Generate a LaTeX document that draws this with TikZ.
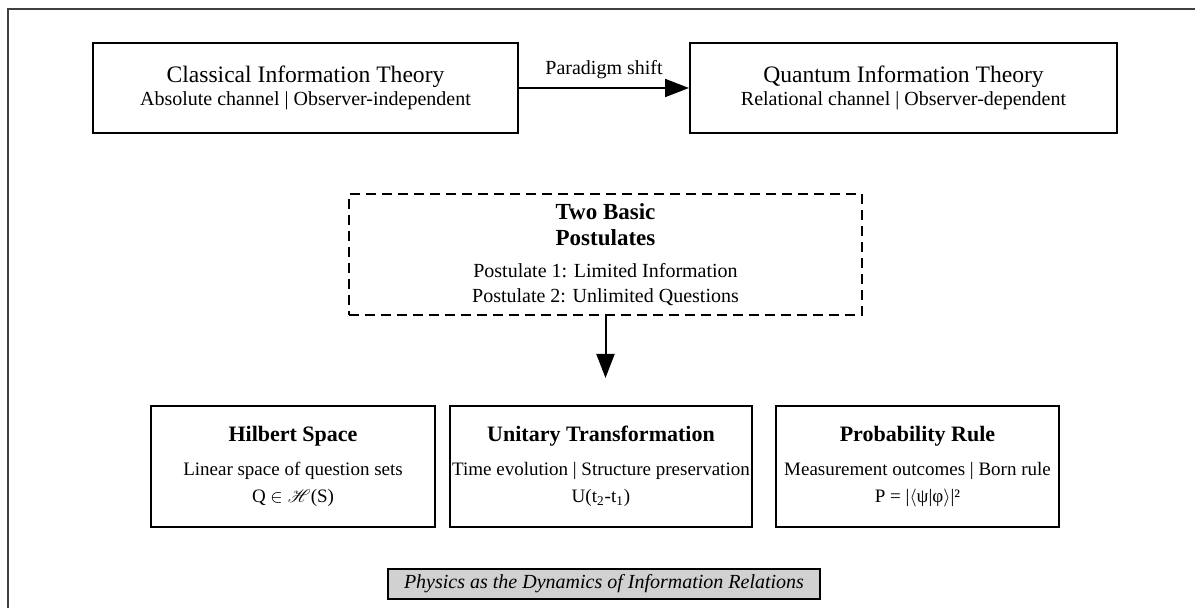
\documentclass[tikz,border=0pt]{standalone}
\usepackage{fontspec}
\setmainfont{Liberation Serif}
\usepackage{mathrsfs}
\usetikzlibrary{arrows.meta}

\begin{document}
\begin{tikzpicture}[x=0.5pt,y=-0.5pt,
	box/.style={draw,line width=1pt,align=center,inner sep=0pt},
	dashbox/.style={box,dash pattern=on 5pt off 3pt},
	link/.style={line width=1pt,-{Triangle[length=12pt,width=9pt]}}]
		\useasboundingbox (0,0) rectangle (1195,608);
		% frame
		\draw[line width=1pt,black!75] (8,608) -- (8,9) -- (1195,9);
		% top row
		\node[box,minimum width=212.5pt,minimum height=45pt,font=\fontsize{10}{11.5}\selectfont] (classical) at (305.5,88)
			{{\fontsize{11.8}{11.5}\selectfont Classical Information Theory}\\Absolute channel | Observer-independent};
		\node[box,minimum width=213.5pt,minimum height=45pt,font=\fontsize{10}{11.5}\selectfont] (quantum) at (903.5,88)
			{{\fontsize{11.8}{11.5}\selectfont Quantum Information Theory}\\Relational channel | Observer-dependent};
		\draw[link] (classical) -- (quantum) node[midway,above=1pt,font=\fontsize{10}{12}\selectfont] {Paradigm shift};
		% postulates
		\node[dashbox,minimum width=256.5pt,minimum height=60.5pt,font=\fontsize{10}{12.5}\selectfont] (postulates) at (605.5,254.5)
			{{\bfseries\fontsize{11.5}{12.5}\selectfont Two Basic}\\[0.5pt]{\bfseries\fontsize{11.5}{12.5}\selectfont Postulates}\\[3.5pt]
			Postulate 1: Limited Information\\Postulate 2: Unlimited Questions};
		\coordinate (split) at (605.5,378);
		\draw[link] (postulates) -- (split);
		% bottom row
		\node[box,minimum width=142pt,minimum height=60.5pt,font=\fontsize{9.5}{13.5}\selectfont] (hilbert) at (293,466.5)
			{{\bfseries\fontsize{11}{13.5}\selectfont Hilbert Space}\\[3.5pt]Linear space of question sets\\Q $\in\mathscr{H}$(S)};
		\node[box,minimum width=151pt,minimum height=60.5pt,font=\fontsize{9.5}{13.5}\selectfont] (unitary) at (601,466.5)
			{{\bfseries\fontsize{11}{13.5}\selectfont Unitary Transformation}\\[3.5pt]Time evolution | Structure preservation\\U(t\textsubscript{2}-t\textsubscript{1})};
		\node[box,minimum width=141.5pt,minimum height=60.5pt,font=\fontsize{9.5}{13.5}\selectfont] (probability) at (917.5,466.5)
			{{\bfseries\fontsize{11}{13.5}\selectfont Probability Rule}\\[3.5pt]Measurement outcomes | Born rule\\P = |$\langle$ψ|φ$\rangle$|²};
		% caption
		\node[draw,line width=0.8pt,fill=black!18,minimum width=216pt,minimum height=15pt,inner sep=0pt,font=\itshape\fontsize{10}{12}\selectfont] (caption) at (604,584)
			{Physics as the Dynamics of Information Relations};
	\end{tikzpicture}
\end{document}
